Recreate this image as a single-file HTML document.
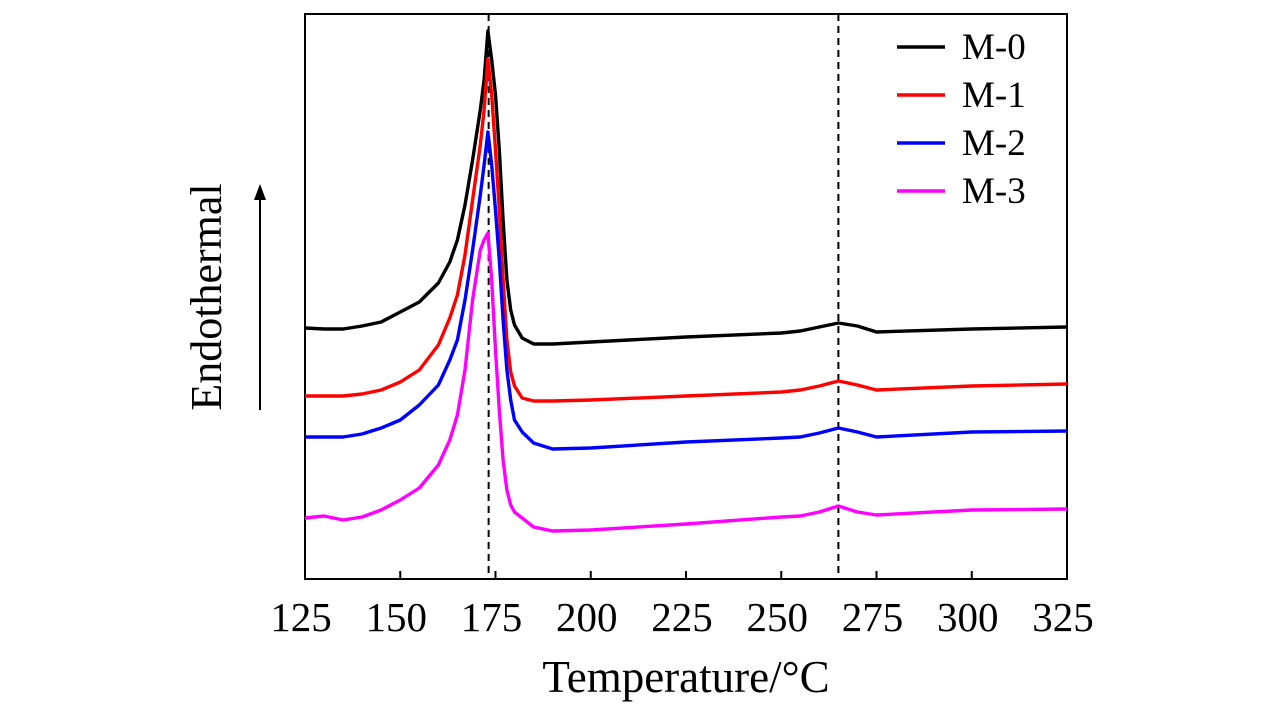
<!DOCTYPE html>
<html><head><meta charset="utf-8"><style>
html,body{margin:0;padding:0;background:#fff;width:1283px;height:709px;overflow:hidden}
svg text{font-family:"Liberation Serif",serif;fill:#000}
</style></head><body>
<svg id="chart" width="1283" height="709" xmlns="http://www.w3.org/2000/svg">
<rect x="305" y="14" width="762" height="565" fill="none" stroke="#000" stroke-width="2"/>
<g id="ticks"></g>
<g id="series"></g>
<text x="686" y="692" font-size="45" text-anchor="middle">Temperature/°C</text>
<text transform="translate(221,297) rotate(-90)" font-size="44" text-anchor="middle">Endothermal</text>
<line x1="260" y1="410" x2="260" y2="195" stroke="#000" stroke-width="2"/>
<polygon points="260,184 254,200 266,200" fill="#000"/>
<g id="legend"></g>
</svg>
<script>
const temps=[125,130,135,140,145,150,155,160,163,165,167,169,171,172,173,174,175,176,177,178,179,180,182,185,190,200,225,250,255,260,265,270,275,300,325];
const m0=[251,250,250,253,257,267,277,296,317,339,374,419,469,499,548,519,484,429,359,299,269,254,241,235,235,237,242,246,248,252,256,253,247,250,252];
const m1=[183,183,183,185,189,197,209,234,261,284,324,379,434,469,520,484,429,369,299,239,207,193,181,178,178,179,183,187,189,193,198,194,189,193,195];
const m2=[142,142,142,145,151,159,174,194,219,239,279,329,384,414,447,414,369,319,259,209,179,159,147,136,130,131,137,141,142,146,151,147,142,147,148];
const m3=[61,63,59,62,69,79,91,114,139,164,209,279,329,339,346,299,229,169,119,89,74,67,61,52,48,49,55,62,63,67,73,67,64,69,70];
const seriesNames=["M-0","M-1","M-2","M-3"];
const seriesColors=["#000000","#ff0000","#0000ff","#ff00ff"];
const xTicks=[125,150,175,200,225,250,275,300,325];
const refLines=[173.2,265];
const NS="http://www.w3.org/2000/svg";
const X0=305,X1=1067,Y0=579,Y1=14;
function xs(t){return X0+(t-125)/(325-125)*(X1-X0);}
function ys(v){return Y0-v/565*(Y0-Y1);}
function mk(tag,attrs,parent){const e=document.createElementNS(NS,tag);for(const k in attrs)e.setAttribute(k,attrs[k]);parent.appendChild(e);return e;}
const tg=document.getElementById('ticks');
xTicks.forEach(t=>{
  const l=mk('line',{x1:xs(t),x2:xs(t),y1:Y0,y2:Y0-8,stroke:'#000','stroke-width':2},tg);
  
  
  const tx=mk('text',{x:xs(t)-4,y:631,'font-size':41,'text-anchor':'middle'},tg);
  tx.textContent=t;
  
  
});
refLines.forEach(t=>{
  const l=mk('line',{x1:xs(t),x2:xs(t),y1:Y1,y2:Y0,stroke:'#000','stroke-width':2,'stroke-dasharray':'7,5'},tg);
  
  
});
const sg=document.getElementById('series');
[m0,m1,m2,m3].forEach((vals,i)=>{
  const d=vals.map((v,j)=>(j?'L':'M')+xs(temps[j]).toFixed(1)+','+ys(v).toFixed(1)).join(' ');
  const p=mk('path',{d:d,fill:'none',stroke:seriesColors[i],'stroke-width':3.4,'stroke-linejoin':'round'},sg);
  
  
});
const lg=document.getElementById('legend');
seriesNames.forEach((n,i)=>{
  const y=47+i*48;
  const l=mk('line',{x1:897,x2:945,y1:y,y2:y,stroke:seriesColors[i],'stroke-width':3.4},lg);
  
  
  const t=mk('text',{x:962,y:y+12,'font-size':37},lg);
  t.textContent=n;
  
  
});
</script>
</body></html>
